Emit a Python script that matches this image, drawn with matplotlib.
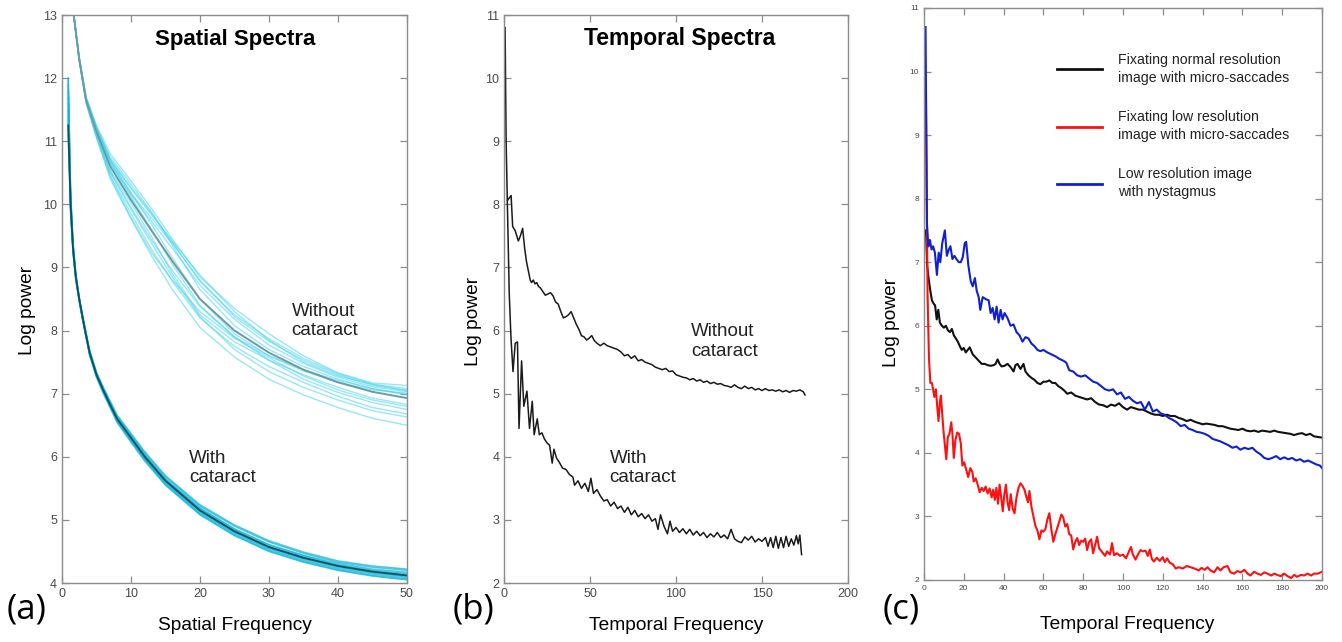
import numpy as np
import matplotlib
matplotlib.use("Agg")
import matplotlib.pyplot as plt

plt.rcParams['font.family'] = ['Liberation Sans', 'DejaVu Sans']

# ---------------- (a) spatial spectra ----------------
sf_x_without = [1.7, 2.5, 3.5, 5, 7, 10, 13, 16, 20, 25, 30, 35, 40, 45, 50]
sf_mean_without = [13.0, 12.3, 11.65, 11.15, 10.6, 10.07, 9.58, 9.1, 8.5, 8.0, 7.65, 7.38, 7.18, 7.03, 6.93]
sf_lines_without = [
    [13.0, 12.32, 11.7, 11.25, 10.8, 10.37, 9.93, 9.45, 8.85, 8.35, 7.95, 7.6, 7.33, 7.17, 7.13],
    [13.0, 12.31, 11.68, 11.21, 10.72, 10.27, 9.86, 9.4, 8.78, 8.25, 7.87, 7.56, 7.32, 7.15, 7.08],
    [13.0, 12.3, 11.67, 11.2, 10.7, 10.19, 9.68, 9.15, 8.5, 7.95, 7.6, 7.36, 7.18, 7.06, 7.01],
    [13.0, 12.28, 11.6, 11.05, 10.4, 9.77, 9.18, 8.65, 8.05, 7.58, 7.23, 6.98, 6.78, 6.61, 6.5],
    [13.0, 12.29, 11.62, 11.08, 10.46, 9.85, 9.28, 8.78, 8.2, 7.75, 7.43, 7.18, 6.96, 6.78, 6.68],
    [13.0, 12.31, 11.67, 11.18, 10.65, 10.15, 9.73, 9.3, 8.72, 8.18, 7.77, 7.48, 7.26, 7.11, 7.03],
    [13.0, 12.3, 11.63, 11.11, 10.52, 9.95, 9.43, 8.95, 8.38, 7.9, 7.53, 7.23, 7.02, 6.86, 6.75],
    [13.0, 12.32, 11.69, 11.23, 10.75, 10.32, 9.88, 9.35, 8.65, 8.08, 7.7, 7.43, 7.23, 7.08, 6.99],
    [13.0, 12.28, 11.61, 11.07, 10.44, 9.79, 9.23, 8.8, 8.3, 7.88, 7.57, 7.28, 7.06, 6.9, 6.8],
    [13.0, 12.31, 11.67, 11.19, 10.7, 10.25, 9.83, 9.42, 8.88, 8.3, 7.85, 7.5, 7.28, 7.15, 7.05],
    [13.0, 12.29, 11.63, 11.1, 10.5, 9.92, 9.38, 8.85, 8.22, 7.7, 7.35, 7.1, 6.9, 6.73, 6.63],
    [13.0, 12.3, 11.65, 11.17, 10.65, 10.12, 9.6, 9.05, 8.4, 7.9, 7.6, 7.38, 7.21, 7.08, 6.98],
    [13.0, 12.29, 11.62, 11.1, 10.54, 10.02, 9.48, 8.9, 8.25, 7.82, 7.53, 7.3, 7.1, 6.93, 6.83],
    [13.0, 12.31, 11.68, 11.21, 10.68, 10.17, 9.78, 9.38, 8.8, 8.22, 7.83, 7.53, 7.3, 7.13, 7.05],
]

sf_x_with = [0.9, 1.25, 1.6, 2, 2.5, 3, 4, 5, 6, 7, 8, 10, 12, 15, 20, 25, 30, 35, 40, 45, 50]
sf_mean_with = [11.25, 10.0, 9.3, 8.85, 8.5, 8.2, 7.65, 7.3, 7.05, 6.82, 6.6, 6.3, 6.0, 5.62, 5.15, 4.82, 4.57, 4.4, 4.27, 4.18, 4.12]
sf_lines_with = [
    [12.0, 10.2, 9.4, 8.9, 8.52, 8.22, 7.68, 7.33, 7.08, 6.86, 6.64, 6.35, 6.06, 5.68, 5.22, 4.9, 4.65, 4.47, 4.33, 4.25, 4.2],
    [11.9, 10.1, 9.35, 8.88, 8.5, 8.2, 7.66, 7.31, 7.06, 6.84, 6.62, 6.33, 6.03, 5.65, 5.19, 4.86, 4.61, 4.44, 4.31, 4.22, 4.17],
    [11.6, 9.95, 9.28, 8.84, 8.48, 8.18, 7.63, 7.28, 7.03, 6.8, 6.57, 6.27, 5.97, 5.58, 5.11, 4.78, 4.53, 4.36, 4.23, 4.14, 4.08],
    [11.4, 9.9, 9.25, 8.82, 8.47, 8.17, 7.62, 7.27, 7.02, 6.79, 6.56, 6.25, 5.95, 5.56, 5.09, 4.76, 4.51, 4.34, 4.21, 4.12, 4.06],
    [11.8, 10.05, 9.32, 8.86, 8.5, 8.2, 7.66, 7.31, 7.07, 6.84, 6.62, 6.32, 6.02, 5.64, 5.18, 4.85, 4.6, 4.43, 4.29, 4.2, 4.15],
    [11.3, 9.92, 9.27, 8.83, 8.48, 8.18, 7.64, 7.29, 7.04, 6.81, 6.59, 6.29, 5.99, 5.61, 5.14, 4.81, 4.56, 4.39, 4.26, 4.17, 4.11],
    [11.1, 9.85, 9.22, 8.8, 8.46, 8.16, 7.61, 7.26, 7.0, 6.77, 6.54, 6.23, 5.93, 5.55, 5.08, 4.75, 4.5, 4.33, 4.2, 4.11, 4.05],
    [12.0, 10.15, 9.38, 8.9, 8.53, 8.23, 7.69, 7.34, 7.1, 6.88, 6.66, 6.37, 6.08, 5.7, 5.24, 4.92, 4.67, 4.49, 4.35, 4.27, 4.22],
    [11.5, 9.98, 9.29, 8.84, 8.49, 8.19, 7.64, 7.29, 7.05, 6.83, 6.61, 6.31, 6.01, 5.63, 5.16, 4.83, 4.58, 4.41, 4.28, 4.19, 4.13],
    [11.7, 10.02, 9.3, 8.85, 8.49, 8.19, 7.65, 7.3, 7.04, 6.81, 6.58, 6.28, 5.98, 5.6, 5.13, 4.8, 4.55, 4.38, 4.25, 4.16, 4.1],
]

# ---------------- (b) temporal spectra ----------------
tb_x_without = [0.6, 1.2, 1.9, 3.0, 4.1, 5.0, 6.5, 8.3, 9.5, 10.8, 12, 13, 14.1, 15.2, 16, 17, 18, 19, 20, 21,
                22.5, 24, 25.5, 27, 28.5, 30, 31.5, 33, 34.5, 36, 37.5, 39, 40.5, 42, 43.5, 45, 46.5, 48, 49.5, 51,
                52.5, 54, 56, 58, 60, 62, 64, 66, 68, 70, 72, 74, 76, 78, 80, 82, 84, 86, 88, 90,
                92, 94, 96, 98, 100, 102, 104, 106, 108, 110, 112, 114, 116, 118, 120, 122, 124, 126, 128, 130,
                132, 134, 136, 138, 140, 142, 144, 146, 148, 150, 152, 154, 156, 158, 160, 162, 164, 166, 168, 170,
                172, 174, 175]
tb_y_without = [10.8, 9.0, 8.06, 8.1, 8.14, 7.65, 7.58, 7.42, 7.5, 7.62, 7.3, 7.1, 6.95, 6.8, 6.76, 6.8, 6.74, 6.76, 6.7, 6.68,
                6.62, 6.56, 6.58, 6.6, 6.55, 6.45, 6.42, 6.3, 6.2, 6.22, 6.25, 6.3, 6.2, 6.1, 6.02, 5.92, 5.9, 5.85, 5.88, 5.92,
                5.84, 5.8, 5.76, 5.8, 5.76, 5.74, 5.72, 5.7, 5.66, 5.6, 5.62, 5.56, 5.6, 5.52, 5.54, 5.5, 5.48, 5.46, 5.42, 5.4,
                5.38, 5.4, 5.35, 5.36, 5.3, 5.28, 5.26, 5.25, 5.22, 5.24, 5.2, 5.22, 5.18, 5.2, 5.16, 5.18, 5.15, 5.16, 5.13, 5.12,
                5.1, 5.14, 5.1, 5.08, 5.12, 5.08, 5.1, 5.06, 5.08, 5.05, 5.08, 5.05, 5.06, 5.04, 5.06, 5.03, 5.05, 5.02, 5.05, 5.04,
                5.06, 5.03, 4.98]

tb_x_with = [1.9, 3.0, 4.0, 5.2, 6.5, 7.8, 8.7, 10.2, 11.5, 13.3, 14.8, 16.4, 17.5, 19.3, 20.5, 22, 23.5, 25, 26.5, 28,
             29, 30.5, 32, 34, 36, 38, 40, 41, 43, 45, 47, 49, 50.5, 52, 54, 56, 58, 60, 62, 64,
             66, 68, 70, 72, 74, 76, 78, 80, 82, 84, 86, 88, 89.5, 91, 93, 95, 96.5, 98, 100, 102,
             104, 106, 108, 110, 112, 114, 116, 118, 120, 122, 124, 126, 128, 130, 132, 134, 136, 138, 140, 142,
             144, 146, 148, 150, 152, 153.5, 155, 156.5, 158, 159.5, 161, 162.5, 164, 165.5, 167, 168.5, 170, 171, 172, 173]
tb_y_with = [8.05, 6.6, 5.9, 5.35, 5.8, 5.82, 4.45, 5.52, 4.8, 5.04, 4.45, 4.88, 4.35, 4.6, 4.35, 4.38, 4.28, 4.22, 4.18, 3.9,
             4.12, 3.98, 3.92, 3.82, 3.8, 3.72, 3.68, 3.55, 3.62, 3.5, 3.58, 3.45, 3.66, 3.42, 3.48, 3.38, 3.3, 3.32, 3.22, 3.28,
             3.18, 3.22, 3.12, 3.2, 3.08, 3.15, 3.05, 3.1, 3.02, 3.08, 2.98, 3.02, 2.85, 3.08, 2.9, 2.78, 2.98, 2.82, 2.88, 2.8,
             2.86, 2.78, 2.85, 2.76, 2.82, 2.75, 2.8, 2.72, 2.78, 2.73, 2.8, 2.72, 2.76, 2.7, 2.85, 2.7, 2.66, 2.64, 2.73, 2.68,
             2.74, 2.65, 2.7, 2.66, 2.72, 2.58, 2.72, 2.56, 2.74, 2.55, 2.72, 2.56, 2.74, 2.58, 2.7, 2.6, 2.75, 2.62, 2.76, 2.45]

# ---------------- (c) eye-movement conditions ----------------
tc_x_blue = [0.8, 1.5, 2.2, 3.0, 3.8, 4.6, 5.5, 6.5, 7.4, 8.2, 9.2, 10.5, 11.5, 12.5, 13.3, 14.3, 15.3, 16.3, 17.5, 18.5,
             19.5, 20.5, 21.2, 22.3, 23.5, 24.5, 25.6, 26.5, 27.5, 28.3, 29.5, 31, 32.5, 33.5, 34.5, 35.5, 36.5, 37.5, 38.5, 39.5,
             40.5, 42, 43.5, 45, 46.5, 48, 49.5, 51, 52.5, 54, 55.5, 57, 58.5, 60, 62, 64, 66, 68, 70, 71.5,
             73, 75, 77, 79, 81, 83, 85, 87, 89, 91, 93, 95, 97, 99, 101, 103, 105, 107, 109, 111,
             113, 115, 117, 119, 121, 123, 125, 127, 129, 131, 133, 135, 137, 139, 141, 143, 145, 147, 149, 151,
             153, 155, 157, 159, 161, 163, 165, 167, 169, 171, 173, 175, 177, 179, 181, 183, 185, 187, 189, 191,
             193, 195, 197, 199, 200]
tc_y_blue = [10.7, 7.6, 7.25, 7.35, 7.2, 7.25, 7.15, 6.8, 7.15, 7.0, 7.3, 7.5, 7.1, 7.2, 7.25, 7.05, 7.1, 7.05, 7.0, 7.0,
             7.08, 7.3, 7.32, 6.95, 6.7, 6.62, 6.75, 6.55, 6.45, 6.25, 6.45, 6.42, 6.4, 6.2, 6.28, 6.1, 6.3, 6.05, 6.25, 6.1,
             6.2, 6.12, 6.0, 6.02, 5.9, 5.85, 5.75, 5.82, 5.8, 5.72, 5.68, 5.62, 5.6, 5.62, 5.58, 5.55, 5.52, 5.48, 5.45, 5.42,
             5.3, 5.28, 5.22, 5.2, 5.22, 5.17, 5.12, 5.1, 5.05, 5.0, 4.98, 5.0, 4.92, 4.95, 4.85, 4.88, 4.82, 4.78, 4.8, 4.68,
             4.8, 4.65, 4.68, 4.62, 4.6, 4.55, 4.52, 4.48, 4.42, 4.44, 4.38, 4.36, 4.33, 4.32, 4.3, 4.27, 4.22, 4.2, 4.18, 4.15,
             4.12, 4.08, 4.1, 4.05, 4.08, 4.06, 4.08, 4.02, 3.98, 3.92, 3.9, 3.92, 3.95, 3.9, 3.93, 3.9, 3.92, 3.88, 3.9, 3.86,
             3.88, 3.85, 3.82, 3.8, 3.76]

tc_x_black = [1.0, 1.6, 2.3, 3.2, 4.0, 4.8, 5.6, 6.4, 7.2, 8.0, 9, 10, 11, 12, 13, 14, 15, 16, 17, 18,
              19, 20, 21, 22, 23, 24.5, 26, 27.5, 29, 30.5, 32, 33.5, 35, 36, 37, 38, 39, 40.5, 42, 43.5,
              45, 46, 47, 48.5, 50, 51, 52.5, 54, 55.5, 57, 58.5, 60, 61.5, 63, 64.5, 66, 67.5, 69, 70.5, 72,
              74, 76, 78, 80, 82, 84, 86, 88, 90, 92, 94, 96, 98, 100, 102, 104, 106, 108, 110, 112,
              114, 116, 118, 120, 122, 124, 126, 128, 130, 132, 134, 136, 138, 140, 142, 144, 146, 148, 150, 152,
              154, 156, 158, 160, 162, 164, 166, 168, 170, 172, 174, 176, 178, 180, 182, 184, 186, 188, 190, 192,
              194, 196, 198, 200]
tc_y_black = [7.5, 6.95, 6.75, 6.55, 6.4, 6.35, 6.32, 6.1, 6.25, 6.05, 6.0, 5.97, 6.0, 5.93, 5.9, 5.95, 5.85, 5.8, 5.75, 5.68,
              5.62, 5.65, 5.58, 5.62, 5.66, 5.55, 5.5, 5.45, 5.4, 5.4, 5.38, 5.37, 5.38, 5.4, 5.47, 5.4, 5.36, 5.37, 5.4, 5.35,
              5.28, 5.38, 5.4, 5.32, 5.4, 5.28, 5.22, 5.18, 5.15, 5.1, 5.08, 5.12, 5.12, 5.14, 5.1, 5.1, 5.05, 5.02, 4.98, 4.93,
              4.95, 4.9, 4.88, 4.86, 4.84, 4.86, 4.8, 4.76, 4.75, 4.72, 4.76, 4.74, 4.78, 4.72, 4.68, 4.72, 4.7, 4.68, 4.68, 4.65,
              4.62, 4.6, 4.6, 4.58, 4.6, 4.58, 4.58, 4.55, 4.53, 4.5, 4.52, 4.49, 4.47, 4.45, 4.46, 4.45, 4.44, 4.42, 4.42, 4.4,
              4.38, 4.37, 4.36, 4.38, 4.35, 4.34, 4.35, 4.33, 4.35, 4.34, 4.33, 4.35, 4.33, 4.32, 4.31, 4.3, 4.28, 4.3, 4.31, 4.28,
              4.3, 4.26, 4.25, 4.24]

tc_x_red = [1.0, 1.8, 2.5, 3.2, 4.0, 4.6, 5.2, 6.0, 6.6, 7.3, 8.0, 8.5, 9.2, 9.8, 10.6, 11.2, 12.0, 12.8, 13.7, 14.3,
            15.0, 15.8, 16.7, 17.6, 18.5, 19.3, 20.2, 21.2, 22.2, 23.3, 24.3, 25.0, 26.0, 27.0, 28.0, 29.0, 30.0, 31.0, 32.0, 33.0,
            34.0, 34.8, 35.6, 36.4, 37.2, 38.0, 38.8, 39.6, 40.4, 41.2, 42.0, 42.8, 43.6, 44.6, 45.5, 46.5, 47.5, 48.5, 49.5, 50.5,
            51.5, 52.3, 53.0, 54.0, 55.0, 56.0, 57.0, 58.0, 59.0, 60.0, 61.0, 62.0, 63.0, 64.0, 65.0, 66.0, 67.0, 68.0, 69.0, 70.0,
            71.0, 72.0, 73.0, 74.0, 75.0, 76.0, 77.0, 78.0, 79.0, 80.0, 81.0, 82.0, 83.0, 84.0, 85.0, 86.0, 87.0, 88.0, 89.0, 90.0,
            91.0, 92.0, 93.5, 94.5, 95.5, 97.0, 98.5, 100, 101.5, 103, 104, 105, 106.3, 107.5, 108.8, 110, 111.3, 112.5, 113.5, 114.5,
            115.5, 117, 118.5, 120, 121, 122.2, 123.5, 125, 126.5, 128, 130, 132, 134, 136, 138, 139.5, 141, 142.5, 144, 145.8,
            147.5, 149, 150.5, 152.5, 154, 155.8, 157.5, 159.2, 161, 162.6, 164, 165.9, 167.5, 169.3, 171, 172.6, 174.5, 176, 177.5, 179.3,
            181, 182.7, 184.5, 186, 187.5, 189.4, 191, 192.8, 194.5, 196, 198, 200]
tc_y_red = [9.6, 6.5, 5.5, 5.1, 5.1, 5.0, 4.88, 5.0, 4.75, 4.5, 4.8, 4.9, 4.6, 4.35, 4.1, 3.9, 4.25, 4.3, 4.48, 4.3,
            3.92, 4.2, 4.32, 4.3, 4.15, 3.8, 3.85, 3.74, 3.62, 3.76, 3.7, 3.55, 3.6, 3.5, 3.38, 3.45, 3.4, 3.47, 3.36, 3.44,
            3.3, 3.42, 3.26, 3.45, 3.2, 3.5, 3.3, 3.08, 3.35, 3.5, 3.22, 3.1, 3.35, 3.12, 3.05, 3.3, 3.45, 3.52, 3.48, 3.42,
            3.3, 3.22, 3.4, 3.15, 3.0, 2.85, 2.78, 2.64, 2.78, 2.76, 2.8, 2.95, 3.05, 2.8, 2.6, 2.72, 2.82, 2.92, 3.03, 2.98,
            2.84, 2.88, 2.72, 2.7, 2.48, 2.6, 2.66, 2.55, 2.62, 2.6, 2.65, 2.47, 2.6, 2.64, 2.42, 2.55, 2.68, 2.5, 2.46, 2.42,
            2.38, 2.45, 2.4, 2.58, 2.39, 2.42, 2.38, 2.4, 2.34, 2.45, 2.52, 2.4, 2.32, 2.4, 2.47, 2.45, 2.46, 2.38, 2.48, 2.33,
            2.29, 2.35, 2.3, 2.36, 2.28, 2.34, 2.27, 2.25, 2.18, 2.2, 2.18, 2.22, 2.2, 2.18, 2.15, 2.19, 2.16, 2.2, 2.15, 2.12,
            2.2, 2.15, 2.2, 2.22, 2.12, 2.1, 2.14, 2.12, 2.16, 2.1, 2.07, 2.13, 2.1, 2.08, 2.12, 2.1, 2.07, 2.1, 2.08, 2.06,
            2.1, 2.06, 2.03, 2.08, 2.05, 2.08, 2.07, 2.1, 2.07, 2.1, 2.1, 2.13]

legend_labels = ["Fixating normal resolution\nimage with micro-saccades",
                 "Fixating low resolution\nimage with micro-saccades",
                 "Low resolution image\nwith nystagmus"]

SPINE = '#8c8c8c'
TICKLAB = '#4a4a4a'
LABEL_FS = 13.8
NOTE_FS = 13.5


def style_axes(ax, tick_size):
    for s in ax.spines.values():
        s.set_color(SPINE)
        s.set_linewidth(1.0)
    ax.tick_params(direction='in', top=True, right=True, length=5, width=0.9,
                   color=SPINE, labelcolor=TICKLAB, labelsize=tick_size)


fig = plt.figure(figsize=(13.42, 6.42), dpi=100)

# (a)
ax_a = fig.add_axes([0.0462, 0.0919, 0.257, 0.8847])
for ys in sf_lines_without:
    ax_a.plot(sf_x_without, ys, color='#45d3ec', lw=1.0, alpha=0.55)
ax_a.plot(sf_x_without, sf_mean_without, color='#6c9aa4', lw=1.4)
for ys in sf_lines_with:
    ax_a.plot(sf_x_with, ys, color='#14b6d8', lw=1.1, alpha=0.75)
ax_a.plot(sf_x_with, sf_mean_with, color='#0d4f5f', lw=1.3)
ax_a.set_xlim(0, 50)
ax_a.set_ylim(4, 13)
ax_a.set_xticks(range(0, 51, 10))
ax_a.set_yticks(range(4, 14))
style_axes(ax_a, 9)
ax_a.set_xlabel('Spatial Frequency', fontsize=LABEL_FS)
ax_a.set_ylabel('Log power', fontsize=LABEL_FS)
ax_a.xaxis.set_label_coords(0.5, -0.06)
ax_a.yaxis.set_label_coords(-0.075, 0.48)
ax_a.text(25.1, 12.62, 'Spatial Spectra', fontsize=16, fontweight='bold', ha='center', va='center')
ax_a.text(33.3, 8.15, 'Without\ncataract', fontsize=NOTE_FS, ha='left', va='center', color='#222222')
ax_a.text(18.4, 5.82, 'With\ncataract', fontsize=NOTE_FS, ha='left', va='center', color='#222222')

# (b)
ax_b = fig.add_axes([0.3756, 0.0919, 0.2563, 0.8847])
ax_b.plot(tb_x_without, tb_y_without, color='#1a1a1a', lw=1.1)
ax_b.plot(tb_x_with, tb_y_with, color='#1a1a1a', lw=1.1)
ax_b.set_xlim(0, 200)
ax_b.set_ylim(2, 11)
ax_b.set_xticks(range(0, 201, 50))
ax_b.set_yticks(range(2, 12))
style_axes(ax_b, 9)
ax_b.set_xlabel('Temporal Frequency', fontsize=LABEL_FS)
ax_b.set_ylabel('Log power', fontsize=LABEL_FS)
ax_b.xaxis.set_label_coords(0.5, -0.06)
ax_b.yaxis.set_label_coords(-0.063, 0.46)
ax_b.text(101.8, 10.63, 'Temporal Spectra', fontsize=16.5, fontweight='bold', ha='center', va='center')
ax_b.text(108.6, 5.83, 'Without\ncataract', fontsize=NOTE_FS, ha='left', va='center', color='#222222')
ax_b.text(61.3, 3.82, 'With\ncataract', fontsize=NOTE_FS, ha='left', va='center', color='#222222')

# (c)
ax_c = fig.add_axes([0.6885, 0.0966, 0.2966, 0.891])
l1, = ax_c.plot(tc_x_black, tc_y_black, color='#111111', lw=1.5)
l2, = ax_c.plot(tc_x_red, tc_y_red, color='#ff1010', lw=1.5)
l3, = ax_c.plot(tc_x_blue, tc_y_blue, color='#1020d0', lw=1.5)
ax_c.set_xlim(0, 200)
ax_c.set_ylim(2, 11)
ax_c.set_xticks(range(0, 201, 20))
ax_c.set_yticks(range(2, 12))
style_axes(ax_c, 6)
ax_c.set_xlabel('Temporal Frequency', fontsize=LABEL_FS)
ax_c.set_ylabel('Log power', fontsize=LABEL_FS)
ax_c.xaxis.set_label_coords(0.51, -0.063)
ax_c.yaxis.set_label_coords(-0.06, 0.45)
leg = ax_c.legend([l1, l2, l3], legend_labels, loc='upper left', bbox_to_anchor=(0.334, 0.922),
                  borderaxespad=0, borderpad=0, frameon=False, fontsize=10.2,
                  handlelength=3.2, handletextpad=1.1, labelspacing=1.75)
for t in leg.get_texts():
    t.set_color('#222222')
    t.set_linespacing(1.4)
for h in leg.legend_handles:
    h.set_linewidth(2.0)

# panel letters
for x, lab in [(0.005, '(a)'), (0.337, '(b)'), (0.658, '(c)')]:
    fig.text(x, 0.05, lab, fontsize=25, family=['Open Sans', 'DejaVu Sans'], ha='left', va='center')

fig.savefig('out.png', dpi=100)
